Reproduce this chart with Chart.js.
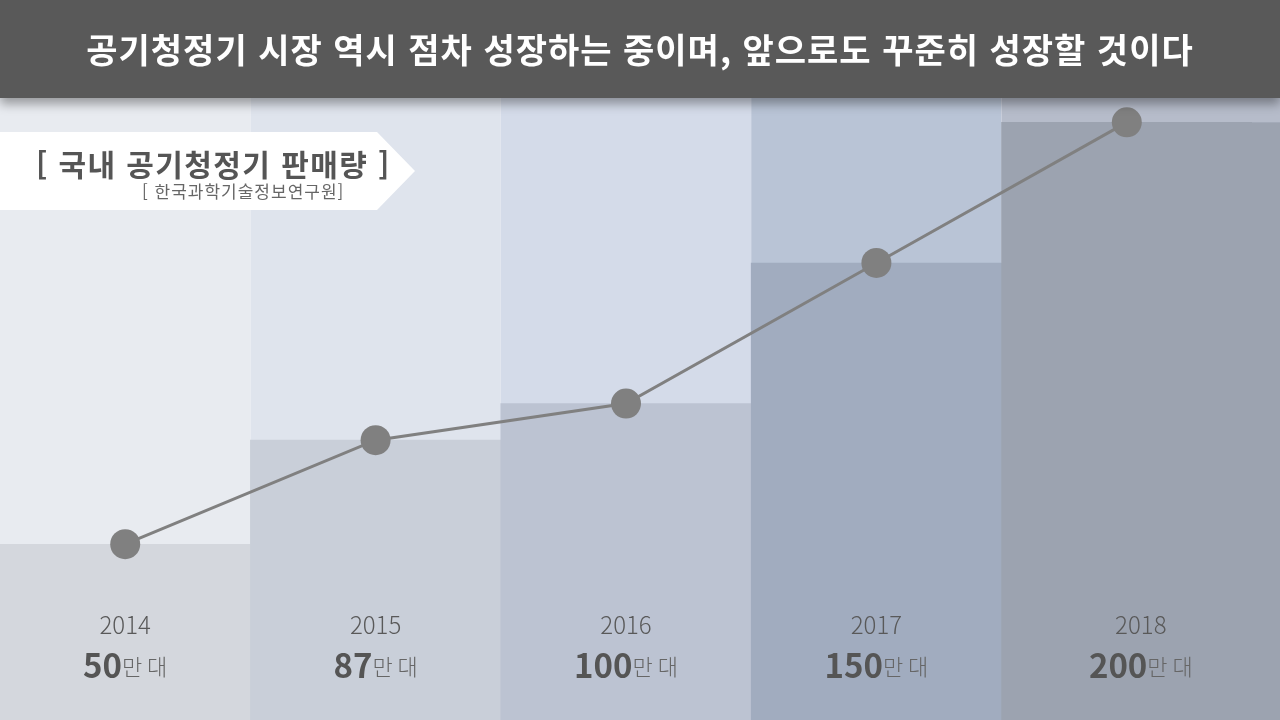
<!DOCTYPE html>
<html lang="ko">
<head>
<meta charset="utf-8">
<title>국내 공기청정기 판매량</title>
<script src="https://cdn.jsdelivr.net/npm/chart.js@4.4.1/dist/chart.umd.min.js"></script>
<style>
  html, body { margin: 0; padding: 0; background: #fff; }
  body { width: 1280px; height: 720px; position: relative; overflow: hidden; font-family: "Noto Sans CJK KR", "Noto Sans", sans-serif; }
  #chart-wrap { position: absolute; left: 0; top: 0; width: 1280px; height: 720px; }
  .header {
    position: absolute; left: 0; top: 0; width: 1280px; height: 98px;
    background: #595959; box-shadow: 0 6px 10px rgba(0,0,0,0.35);
    color: #fff; font-weight: 700; font-size: 34px; line-height: 98px; text-align: center;
    letter-spacing: 1px; z-index: 3;
  }
  .tag {
    position: absolute; left: 0; top: 132px; width: 415px; height: 78px; background: #fff;
    clip-path: polygon(0 0, 377px 0, 415px 50%, 377px 100%, 0 100%); z-index: 2;
  }
  .tag-main { position: absolute; left: 36px; top: 148px; font-size: 30px; font-weight: 700; color: #555; white-space: nowrap; line-height: 1; letter-spacing: 1.4px; z-index: 4; }
  .tag-src { position: absolute; left: 142px; top: 182px; font-size: 17px; font-weight: 400; color: #666; white-space: nowrap; line-height: 1; letter-spacing: 1px; z-index: 4; }
</style>
</head>
<body>
<div id="chart-wrap"><canvas id="sales-chart"></canvas></div>
<div class="header">공기청정기 시장 역시 점차 성장하는 중이며, 앞으로도 꾸준히 성장할 것이다</div>
<div class="tag"></div>
<div class="tag-main">[ 국내 공기청정기 판매량 ]</div>
<div class="tag-src">[ 한국과학기술정보연구원]</div>
<script>
const years = ['2014', '2015', '2016', '2017', '2018'];
const salesValues = [50, 87, 100, 150, 200];
const unitLabel = '만 대';

const Y_MIN = -12.5;
const Y_MAX = 243.5;

const columnBgColors = ['#e8ebf0', '#dfe4ed', '#d4dbe9', '#b9c4d6', '#b6bcca'];
const barColors = ['#d4d7dd', '#c9cfd9', '#bcc3d2', '#a1acbf', '#9ca3b0'];

// light column bands behind each bar, last column runs to the canvas edge
const columnBands = {
    id: 'columnBands',
    beforeDatasetsDraw(chart) {
        const { ctx, chartArea } = chart;
        const meta = chart.getDatasetMeta(1);
        const last = meta.data.length - 1;
        ctx.save();
        meta.data.forEach((bar, i) => {
            const left = bar.x - bar.width / 2;
            const right = i === last ? chart.width : bar.x + bar.width / 2;
            ctx.fillStyle = columnBgColors[i];
            ctx.fillRect(left, 0, right - left, chartArea.bottom);
            if (i === last) {
                const edge = bar.x + bar.width / 2 - 1;
                ctx.fillStyle = barColors[i];
                ctx.fillRect(edge, bar.y, chart.width - edge, chartArea.bottom - bar.y);
            }
        });
        ctx.restore();
    }
};

// year + value labels near the bottom of each column
const columnLabels = {
    id: 'columnLabels',
    afterDatasetsDraw(chart) {
        const { ctx } = chart;
        const meta = chart.getDatasetMeta(1);
        const last = meta.data.length - 1;
        ctx.save();
        ctx.textBaseline = 'middle';
        meta.data.forEach((bar, i) => {
            const left = bar.x - bar.width / 2;
            const right = i === last ? chart.width : bar.x + bar.width / 2;
            const cx = (left + right) / 2;

            ctx.fillStyle = '#595959';
            ctx.textAlign = 'center';
            ctx.font = '300 24px "Noto Sans CJK KR"';
            ctx.fillText(years[i], cx, 625);

            const num = String(salesValues[i]);
            ctx.font = '700 33px "Noto Sans CJK KR"';
            const wNum = ctx.measureText(num).width;
            ctx.font = '300 22px "Noto Sans CJK KR"';
            const wUnit = ctx.measureText(unitLabel).width;
            const start = cx - (wNum + wUnit) / 2;
            ctx.textAlign = 'left';
            ctx.font = '700 33px "Noto Sans CJK KR"';
            ctx.fillStyle = '#555';
            ctx.fillText(num, start, 665);
            ctx.font = '300 22px "Noto Sans CJK KR"';
            ctx.fillStyle = '#666';
            ctx.fillText(unitLabel, start + wNum, 667);
        });
        ctx.restore();
    }
};

new Chart(document.getElementById('sales-chart'), {
    data: {
        labels: years,
        datasets: [
            {
                type: 'line',
                label: '판매량',
                data: salesValues,
                borderColor: '#808080',
                borderWidth: 3,
                pointRadius: 15,
                pointHoverRadius: 15,
                pointBackgroundColor: '#808080',
                pointBorderWidth: 0,
                tension: 0,
                clip: false,
                order: 0
            },
            {
                type: 'bar',
                label: '판매량',
                data: salesValues,
                base: Y_MIN,
                backgroundColor: barColors,
                borderWidth: 0,
                barPercentage: 1,
                categoryPercentage: 1,
                order: 1
            }
        ]
    },
    options: {
        responsive: true,
        maintainAspectRatio: false,
        animation: false,
        layout: { autoPadding: false, padding: { left: 0, right: 28, top: 0, bottom: 0 } },
        plugins: {
            legend: { display: false },
            tooltip: { enabled: false }
        },
        scales: {
            x: { display: false, offset: true, grid: { display: false } },
            y: { display: false, min: Y_MIN, max: Y_MAX }
        }
    },
    plugins: [columnBands, columnLabels]
});
</script>
</body>
</html>
